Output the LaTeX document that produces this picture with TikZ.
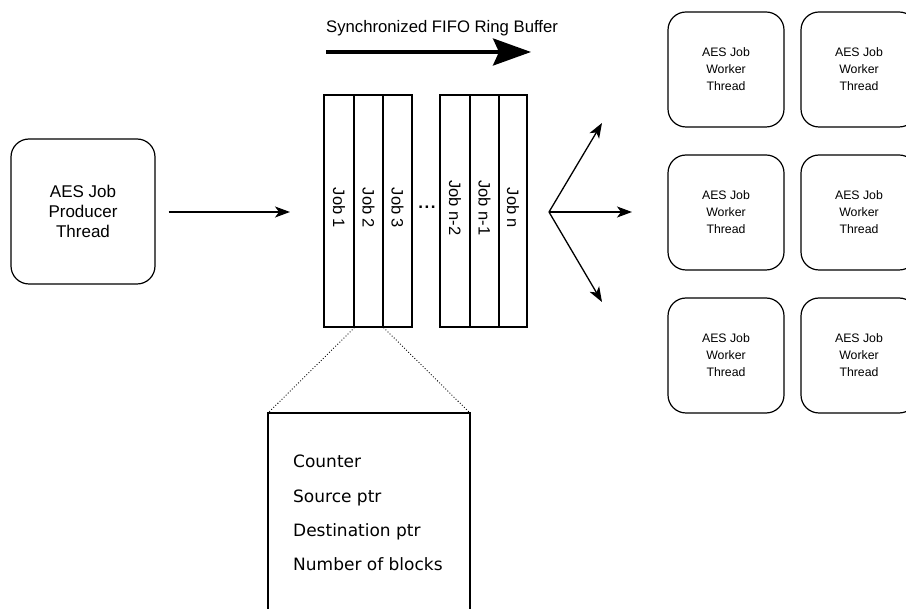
\documentclass[tikz,border=0pt]{standalone}
\usepackage{fontspec}
\setmainfont{Liberation Sans}
\newfontfamily\dejavu{DejaVu Sans}
\usetikzlibrary{arrows.meta}

\tikzset{
  thread/.style={draw, line width=1.2pt, rounded corners=18pt, align=center,
    inner sep=0pt},
  producer/.style={thread, minimum width=144pt, minimum height=145pt,
    font=\fontsize{17}{20}\selectfont},
  worker/.style={thread, minimum width=116pt, minimum height=115pt,
    font=\fontsize{12.3}{17}\selectfont},
  cell/.style={draw, line width=1.1pt, inner sep=0pt, minimum height=232pt},
  joblabel/.style={rotate=-90, inner sep=0pt, font=\fontsize{16.5}{18}\selectfont},
  flow/.style={line width=1.3pt, -{Stealth[length=15pt, width=11pt, inset=4pt]}},
  field/.style={anchor=base west, inner sep=0pt, font=\dejavu\fontsize{17}{20}\selectfont},
}

\begin{document}
\begin{tikzpicture}[x=1pt, y=-1pt]
\clip (0,0) rectangle (906,609);
\fill[white] (0,0) rectangle (906,609);

% producer
\node[producer] (prod) at (83,211.5) {AES Job\\Producer\\Thread};

% ring buffer cells
\node[cell, minimum width=30pt]   (c1) at (339,211)   {};
\node[cell, minimum width=29pt]   (c2) at (368.5,211) {};
\node[cell, minimum width=29pt]   (c3) at (397.5,211) {};
\node[cell, minimum width=30pt]   (c4) at (455,211)   {};
\node[cell, minimum width=29pt]   (c5) at (484.5,211) {};
\node[cell, minimum width=28pt]   (c6) at (513,211)   {};

\node[joblabel] (l1) at (339,208)   {Job 1};
\node[joblabel] (l2) at (368.5,208) {Job 2};
\node[joblabel] (l3) at (397.5,208) {Job 3};
\node[joblabel] (l4) at (455,208)   {Job n-2};
\node[joblabel] (l5) at (484.5,208) {Job n-1};
\node[joblabel] (l6) at (513,208)   {Job n};
\node[inner sep=0pt, font=\fontsize{17}{18}\selectfont\bfseries] (dots) at (427,207)
  {.\kern1.6pt.\kern1.6pt.};

% buffer title and direction arrow
\node[anchor=west, inner sep=0pt, font=\fontsize{16.7}{20}\selectfont] (title) at (326,28)
  {Synchronized FIFO Ring Buffer};
\coordinate (dirA) at (326,52);
\coordinate (dirB) at (531,52);
\draw[line width=3.5pt, -{Stealth[length=38pt, width=27pt, inset=6pt]}] (dirA) -- (dirB);

% producer to buffer
\coordinate (bufin) at (290,212);
\draw[flow, shorten <=13pt] (prod.east |- bufin) -- (bufin);

% fan-out to workers
\coordinate (fan) at (549,212);
\coordinate (fanA) at (602,123);
\coordinate (fanB) at (632,212);
\coordinate (fanC) at (602,302);
\draw[flow] (fan) -- (fanA);
\draw[flow] (fan) -- (fanB);
\draw[flow] (fan) -- (fanC);

% worker pool
\node[worker] (w11) at (726,69.5)  {AES Job\\Worker\\Thread};
\node[worker] (w12) at (859,69.5)  {AES Job\\Worker\\Thread};
\node[worker] (w21) at (726,212.5) {AES Job\\Worker\\Thread};
\node[worker] (w22) at (859,212.5) {AES Job\\Worker\\Thread};
\node[worker] (w31) at (726,355.5) {AES Job\\Worker\\Thread};
\node[worker] (w32) at (859,355.5) {AES Job\\Worker\\Thread};

% job record detail
\coordinate (dTL) at (268,413);
\coordinate (dTR) at (470,413);
\draw[line width=1.2pt] (268,615) -- (dTL) -- (dTR) -- (470,615);
\draw[dotted, line width=0.9pt] (c1.south east) -- (dTL);
\draw[dotted, line width=0.9pt] (c2.south east) -- (dTR);

\node[field] (f1) at (293,468) {Counter};
\node[field] (f2) at (293,503) {Source ptr};
\node[field] (f3) at (293,537) {Destination ptr};
\node[field] (f4) at (293,571) {Number of blocks};
\end{tikzpicture}
\end{document}
